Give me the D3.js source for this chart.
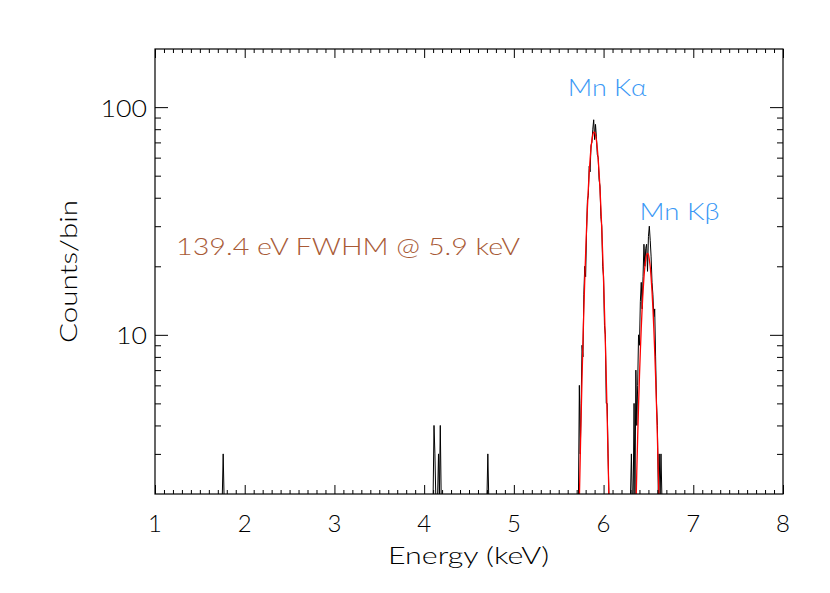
<!DOCTYPE html>
<html>
<head>
<meta charset="utf-8">
<script src="https://cdn.jsdelivr.net/npm/d3@7"></script>
<style>
  html, body { margin: 0; padding: 0; background: #fff; }
  svg { display: block; }
  text { font-family: Lato, "DejaVu Sans", sans-serif; font-weight: 300; }
</style>
</head>
<body>
<svg id="chart" width="830" height="593"></svg>
<script>
// ---- data ----
const xTickLabels = ["1", "2", "3", "4", "5", "6", "7", "8"];
const yTickLabels = ["10", "100"];
const yTickValues = [10, 100];

// measured spectrum: bin energies (keV) with non-zero counts
const binEnergies = [
  1.76,
  4.11, 4.12, 4.16, 4.18,
  4.71,
  5.70, 5.73, 5.74, 5.75, 5.76, 5.77, 5.78, 5.79, 5.80, 5.81, 5.82, 5.83, 5.84, 5.85,
  5.86, 5.87, 5.88, 5.89, 5.90, 5.91, 5.92, 5.93, 5.94, 5.95, 5.96, 5.97, 5.98, 5.99,
  6.00, 6.01, 6.02, 6.03, 6.04, 6.05,
  6.31, 6.34, 6.36, 6.37, 6.38, 6.39, 6.40, 6.41, 6.42, 6.43, 6.44, 6.45, 6.46, 6.47,
  6.48, 6.49, 6.50, 6.51, 6.52, 6.53, 6.54, 6.55, 6.56, 6.57, 6.58, 6.59, 6.60, 6.61,
  6.62, 6.64
];
const binCounts = [
  3,
  4, 3, 3, 4,
  3,
  2, 6, 3, 5, 9, 8, 15, 20, 18, 28, 39, 41, 55, 52,
  68, 70, 80, 88, 72, 84, 74, 62, 60, 48, 45, 33, 30, 20,
  18, 11, 10, 5, 5, 3,
  3, 5, 7, 4, 6, 10, 9, 14, 17, 13, 18, 25, 20, 24,
  25, 19, 27, 30, 26, 22, 17, 15, 12, 13, 8, 5, 4, 2,
  3, 3
];

// Gaussian fit (red)
const fitKaEnergy = [5.72, 5.73, 5.74, 5.75, 5.76, 5.77, 5.78, 5.79, 5.80, 5.81, 5.82, 5.83,
  5.84, 5.85, 5.86, 5.87, 5.88, 5.89, 5.90, 5.91, 5.92, 5.93, 5.94, 5.95, 5.96, 5.97,
  5.98, 5.99, 6.00, 6.01, 6.02, 6.03, 6.04, 6.05, 6.06, 6.07];
const fitKaCounts = [1.19, 1.89, 2.93, 4.41, 6.47, 9.22, 12.8, 17.3, 22.7, 29.1, 36.2, 43.8,
  51.6, 59.1, 66.0, 71.6, 75.6, 77.7, 77.7, 75.6, 71.6, 66.0, 59.1, 51.6, 43.8, 36.2,
  29.1, 22.7, 17.3, 12.8, 9.22, 6.47, 4.41, 2.93, 1.89, 1.19];
const fitKbEnergy = [6.35, 6.36, 6.37, 6.38, 6.39, 6.40, 6.41, 6.42, 6.43, 6.44, 6.45, 6.46,
  6.47, 6.48, 6.49, 6.50, 6.51, 6.52, 6.53, 6.54, 6.55, 6.56, 6.57, 6.58, 6.59, 6.60,
  6.61, 6.62, 6.63];
const fitKbCounts = [1.12, 1.69, 2.49, 3.54, 4.9, 6.56, 8.5, 10.7, 13.1, 15.5, 17.8, 19.9,
  21.4, 22.5, 22.8, 22.5, 21.4, 19.9, 17.8, 15.5, 13.1, 10.7, 8.5, 6.56, 4.9, 3.54,
  2.49, 1.69, 1.12];

const annotations = [
  { text: "139.4 eV FWHM @ 5.9 keV", x: 1.235, y: 22.4, color: "#a85a36", len: 344 },
  { text: "Mn K\u03B1", x: 5.6, y: 112, color: "#3a98f5", len: 79 },
  { text: "Mn K\u03B2", x: 6.4, y: 31.8, color: "#3a98f5", len: 80 }
];

// ---- layout ----
const M = { left: 155, right: 783, top: 49, bottom: 494 };
const svg = d3.select("#chart");
const x = d3.scaleLinear().domain([1, 8]).range([M.left, M.right]);
const y = d3.scaleLog().domain([2, 180]).range([M.bottom, M.top]);

svg.append("defs").append("clipPath").attr("id", "clip")
  .append("rect").attr("x", M.left).attr("y", M.top)
  .attr("width", M.right - M.left).attr("height", M.bottom - M.top);

// full spectrum on a 0.01 keV grid
const countMap = new Map(binEnergies.map((e, i) => [Math.round(e * 100), binCounts[i]]));
const spectrum = d3.range(100, 801).map(k => ({ e: k / 100, c: countMap.get(k) || 0 }));

const specLine = d3.line()
  .x(d => x(d.e))
  .y(d => d.c > 0 ? y(d.c) : M.bottom + 3);

const g = svg.append("g").attr("clip-path", "url(#clip)");
g.append("path").datum(spectrum)
  .attr("d", specLine).attr("fill", "none").attr("stroke", "#000").attr("stroke-width", 1);

const fitLine = d3.line().x(d => x(d[0])).y(d => y(d[1])).curve(d3.curveMonotoneX);
[[fitKaEnergy, fitKaCounts], [fitKbEnergy, fitKbCounts]].forEach(([es, cs]) => {
  g.append("path").datum(es.map((e, i) => [e, cs[i]]))
    .attr("d", fitLine).attr("fill", "none").attr("stroke", "#ff0000").attr("stroke-width", 1.3);
});

// ---- axes (box with inward ticks) ----
const xMajor = d3.range(1, 9);
const xMinor = d3.range(10, 81).map(k => k / 10).filter(v => Math.abs(v - Math.round(v)) > 1e-6);
const yMinor = [3, 4, 5, 6, 7, 8, 9, 20, 30, 40, 50, 60, 70, 80, 90];

svg.append("g").attr("transform", `translate(0,${M.top})`)
  .call(d3.axisBottom(x).tickValues(xMajor).tickSize(9).tickFormat(""));
svg.append("g").attr("transform", `translate(0,${M.top})`)
  .call(d3.axisBottom(x).tickValues(xMinor).tickSize(4).tickFormat(""));
svg.append("g").attr("transform", `translate(0,${M.bottom})`)
  .call(d3.axisTop(x).tickValues(xMajor).tickSize(9).tickFormat(""));
svg.append("g").attr("transform", `translate(0,${M.bottom})`)
  .call(d3.axisTop(x).tickValues(xMinor).tickSize(4).tickFormat(""));
svg.append("g").attr("transform", `translate(${M.left},0)`)
  .call(d3.axisRight(y).tickValues(yTickValues).tickSize(13).tickFormat(""));
svg.append("g").attr("transform", `translate(${M.left},0)`)
  .call(d3.axisRight(y).tickValues(yMinor).tickSize(6).tickFormat(""));
svg.append("g").attr("transform", `translate(${M.right},0)`)
  .call(d3.axisLeft(y).tickValues(yTickValues).tickSize(13).tickFormat(""));
svg.append("g").attr("transform", `translate(${M.right},0)`)
  .call(d3.axisLeft(y).tickValues(yMinor).tickSize(6).tickFormat(""));

svg.selectAll(".domain").remove();
svg.selectAll(".tick line").attr("stroke", "#000").attr("stroke-width", 1);

svg.append("rect").attr("x", M.left).attr("y", M.top)
  .attr("width", M.right - M.left).attr("height", M.bottom - M.top)
  .attr("fill", "none").attr("stroke", "#000").attr("stroke-width", 1.2);

// tick labels
svg.append("g").selectAll("text").data(xMajor).join("text")
  .attr("x", d => x(d)).attr("y", 532)
  .attr("text-anchor", "middle").attr("font-size", 24).attr("fill", "#000")
  .text((d, i) => xTickLabels[i]);

svg.append("g").selectAll("text").data(yTickValues).join("text")
  .attr("x", 147).attr("y", d => y(d) + 9.5)
  .attr("text-anchor", "end").attr("font-size", 24).attr("fill", "#000")
  .attr("textLength", (d, i) => yTickLabels[i].length * 15.5)
  .attr("lengthAdjust", "spacingAndGlyphs")
  .text((d, i) => yTickLabels[i]);

// axis titles
svg.append("text").attr("x", 388).attr("y", 564)
  .attr("font-size", 24).attr("fill", "#000")
  .attr("textLength", 161).attr("lengthAdjust", "spacingAndGlyphs")
  .text("Energy (keV)");

svg.append("text").attr("transform", "translate(77,343) rotate(-90)")
  .attr("font-size", 24).attr("fill", "#000")
  .attr("textLength", 143).attr("lengthAdjust", "spacingAndGlyphs")
  .text("Counts/bin");

// annotations
svg.append("g").selectAll("text").data(annotations).join("text")
  .attr("x", d => x(d.x)).attr("y", d => y(d.y))
  .attr("font-size", 24).attr("fill", d => d.color)
  .attr("textLength", d => d.len).attr("lengthAdjust", "spacingAndGlyphs")
  .text(d => d.text);
</script>
</body>
</html>
